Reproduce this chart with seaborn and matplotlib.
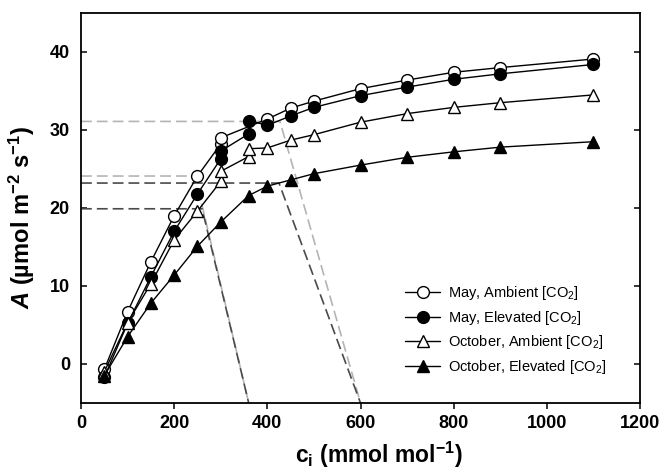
import matplotlib
matplotlib.use("Agg")
import matplotlib.pyplot as plt
import seaborn as sns
import pandas as pd

# ---- data ----
x_may_amb = [50, 100, 150, 200, 250, 300, 300, 400, 450, 500, 600, 700, 800, 900, 1100]
y_may_amb = [-0.7, 6.7, 13.1, 19.0, 24.1, 28.2, 29.0, 31.4, 32.8, 33.7, 35.3, 36.4, 37.4, 38.0, 39.1]

x_may_elev = [50, 100, 150, 200, 250, 300, 300, 360, 360, 400, 450, 500, 600, 700, 800, 900, 1100]
y_may_elev = [-1.7, 5.2, 11.2, 17.0, 21.8, 26.3, 27.3, 29.5, 31.2, 30.6, 31.8, 32.9, 34.4, 35.5, 36.5, 37.2, 38.4]

x_oct_amb = [50, 100, 150, 200, 250, 300, 300, 360, 360, 400, 450, 500, 600, 700, 800, 900, 1100]
y_oct_amb = [-1.0, 5.3, 10.3, 15.9, 19.6, 23.4, 24.7, 26.6, 27.6, 27.7, 28.7, 29.4, 31.0, 32.1, 32.9, 33.5, 34.5]

x_oct_elev = [50, 100, 150, 200, 250, 300, 360, 400, 450, 500, 600, 700, 800, 900, 1100]
y_oct_elev = [-1.5, 3.5, 7.8, 11.4, 15.1, 18.2, 21.6, 22.8, 23.6, 24.4, 25.5, 26.5, 27.2, 27.8, 28.5]

series_labels = ["May, Ambient [CO$_2$]", "May, Elevated [CO$_2$]",
                 "October, Ambient [CO$_2$]", "October, Elevated [CO$_2$]"]

# supply-function reference lines: operating A, ci where horizontal meets diagonal, ci at bottom
ref_A = [31.1, 23.2, 24.1, 19.9]
ref_ci = [427, 425, 245, 260]
ref_ca = [600, 600, 360, 360]
ref_colors = ["#b4b4b4", "#4a4a4a", "#b4b4b4", "#4a4a4a"]

x_ticks = [0, 200, 400, 600, 800, 1000, 1200]
y_ticks = [0, 10, 20, 30, 40]

# ---- style ----
sns.set_theme(style="ticks")
plt.rcParams["font.family"] = ["Liberation Sans", "DejaVu Sans"]
plt.rcParams["mathtext.fontset"] = "custom"
plt.rcParams["mathtext.it"] = "Liberation Sans:italic:bold"
plt.rcParams["mathtext.rm"] = "Liberation Sans"
plt.rcParams["mathtext.default"] = "regular"
for k in ["text.color", "axes.labelcolor", "xtick.color", "ytick.color", "axes.edgecolor"]:
    plt.rcParams[k] = "black"

fig = plt.figure(figsize=(6.6, 4.74), dpi=100)
ax = fig.add_axes([81 / 660, 71 / 474, (640 - 81) / 660, (403 - 13) / 474])

ymin = -5
for A, ci, ca, c in zip(ref_A, ref_ci, ref_ca, ref_colors):
    ax.plot([0, ci, ca], [A, A, ymin], ls=(0, (6.5, 3)), color=c, lw=1.2, zorder=1)

frames = [
    (x_may_amb, y_may_amb, "o", "white"),
    (x_may_elev, y_may_elev, "o", "black"),
    (x_oct_amb, y_oct_amb, "^", "white"),
    (x_oct_elev, y_oct_elev, "^", "black"),
]
for (xs, ys, m, fc), lab in zip(frames, series_labels):
    df = pd.DataFrame({"ci": xs, "A": ys})
    sns.lineplot(data=df, x="ci", y="A", ax=ax, sort=False, estimator=None,
                 color="black", lw=1.0, marker=m, markersize=8.5,
                 markerfacecolor=fc, markeredgecolor="black", markeredgewidth=1.0,
                 label=lab, zorder=3)

ax.set_xlim(0, 1200)
ax.set_ylim(ymin, 45)
ax.set_xticks(x_ticks)
ax.set_yticks(y_ticks)

for s in ax.spines.values():
    s.set_linewidth(1.3)
    s.set_color("black")

ax.tick_params(axis="x", direction="out", length=4.5, width=1.1, labelsize=13,
               pad=4, top=False)
ax.tick_params(axis="y", direction="in", length=4.5, width=1.1, labelsize=13,
               pad=8, left=True, right=True)
for t in ax.get_xticklabels() + ax.get_yticklabels():
    t.set_fontweight("bold")

ax.set_xlabel("c$_{i}$ (mmol mol$^{-1}$)", fontsize=16.5, fontweight="bold")
ax.set_ylabel("$\\mathit{A}$ (µmol m$^{-2}$ s$^{-1}$)", fontsize=17, fontweight="bold")
ax.xaxis.set_label_coords(0.532, -0.095)
ax.yaxis.set_label_coords(-0.078, 0.477)

leg = ax.legend(loc="upper left", bbox_to_anchor=(0.58, 0.305), frameon=False,
                fontsize=10.5, handlelength=2.4, handletextpad=0.5,
                labelspacing=0.45, borderpad=0, borderaxespad=0)

fig.savefig("out.png", dpi=100)
